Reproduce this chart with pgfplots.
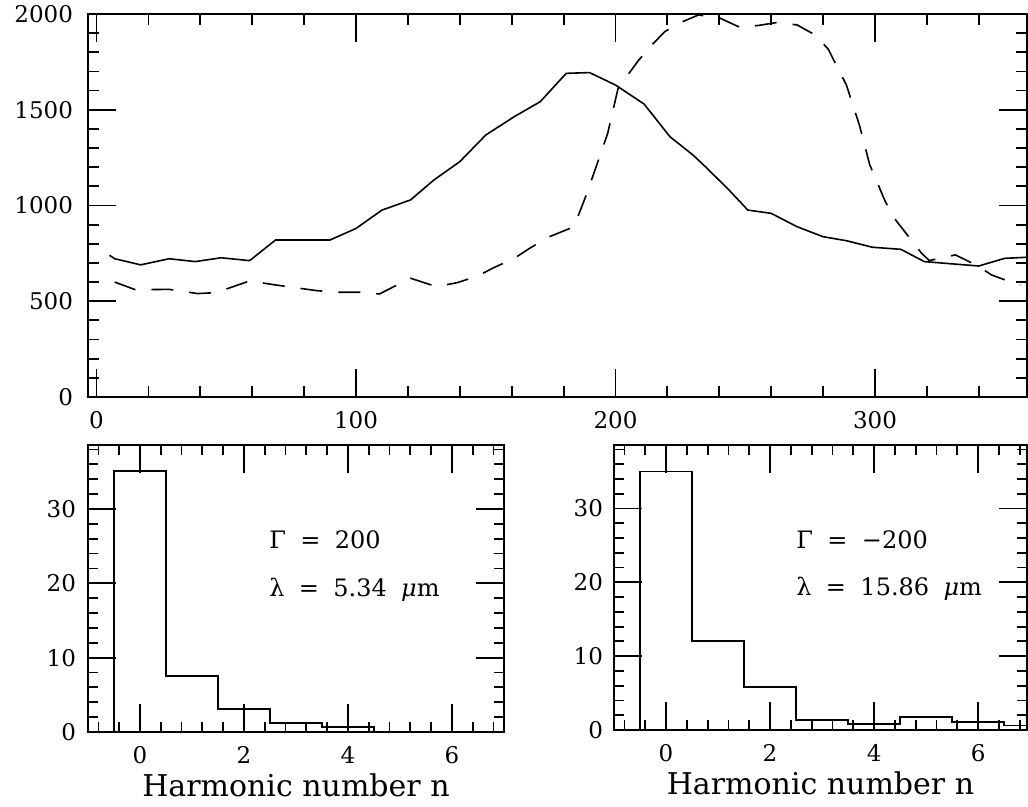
\documentclass[border=0pt]{standalone}
\usepackage{fontspec}
\setmainfont{DejaVu Serif}
\usepackage{pgfplots}
\pgfplotsset{compat=1.18}

\pgfplotsset{
  myax/.style={
    scale only axis,
    axis line style={line width=1pt},
    every tick/.style={black, line width=0.9pt},
    tick align=inside,
    major tick length=14pt,
    minor tick length=5.5pt,
    /pgf/number format/assume math mode=true,
    /pgf/number format/1000 sep={},
    tick label style={font=\fontsize{11.5}{13}\selectfont},
    clip=true,
  }
}
\newcommand{\gp}{\hspace{0.6em}}

\begin{document}
\begin{tikzpicture}
\path[use as bounding box] (0,0) rectangle (514pt,403.5pt);

% ---------------- top panel ----------------
\begin{axis}[myax,
  at={(44pt,205pt)}, anchor=south west,
  width=469.5pt, height=191.5pt,
  xmin=-3.3, xmax=358.6, ymin=0, ymax=2000,
  xtick={0,100,200,300},
  minor xtick={20,40,60,80,120,140,160,180,220,240,260,280,320,340},
  ytick={0,500,1000,1500,2000},
  minor ytick={100,200,300,400,600,700,800,900,1100,1200,1300,1400,1600,1700,1800,1900},
  yticklabel style={xshift=-4pt},
  xticklabel style={yshift=-3.7pt},
]
\addplot[black, line width=0.8pt] coordinates {
(5,740) (7,722) (17,690) (28,722) (38,707) (48,727) (59,712) (69,820) (80,820) (90,820)
(100,880) (110,976) (121,1029) (130,1133) (140,1229) (150,1368) (161,1464) (171,1542)
(181,1690) (190,1694) (200,1629) (211,1530) (221,1359) (230,1262) (236,1185) (244,1077)
(251,976) (260,959) (270,889) (280,837) (289,816) (299,782) (310,771) (319,707)
(340,684) (350,724) (359,730)
};
\addplot[black, line width=0.8pt, dash pattern=on 11pt off 8pt] coordinates {
(7,600) (15,560) (28,562) (39,540) (46,545) (59,606) (69,585) (85,555) (93,547)
(102,547) (109,538) (121,620) (124,607) (131,576) (139,597) (147,632) (153,675)
(161,724) (167,777) (174,834) (184,889) (189,1064) (197,1377) (201,1612) (209,1760)
(214,1838) (219,1908) (225,1955) (232,1995) (240,1980) (248,1930) (255,1940)
(262,1955) (270,1943) (277,1890) (282,1816) (289,1629) (294,1420) (298,1212)
(304,1020) (308,924) (313,837) (318,750) (321,712) (326,728) (331,742) (339,689)
(345,637) (352,602) (356,585)
};
\end{axis}

% ---------------- bottom left panel ----------------
\begin{axis}[myax,
  at={(44pt,37.5pt)}, anchor=south west,
  width=208pt, height=143.5pt,
  xmin=-1, xmax=7, ymin=0, ymax=38.6,
  xtick={0,2,4,6},
  minor xtick={-0.8,-0.4,0.4,0.8,1.2,1.6,2.4,2.8,3.2,3.6,4.4,4.8,5.2,5.6,6.4,6.8},
  ytick={0,10,20,30},
  minor ytick={2,4,6,8,12,14,16,18,22,24,26,28,32,34,36,38},
  major tick length=14pt,
  minor tick length=5pt,
  yticklabel style={xshift=-2.5pt},
  xticklabel style={yshift=-3.5pt},
  xlabel={Harmonic number n},
  xlabel style={font=\fontsize{15}{17}\selectfont, yshift=1.5pt},
]
\addplot[black, line width=0.9pt, const plot] coordinates {
(-0.5,0) (-0.5,35.1) (0.5,7.5) (1.5,3.05) (2.5,1.25) (3.5,0.7) (4.5,0) (7,0)
};
\node[anchor=west, font=\fontsize{12}{14}\selectfont] at (axis cs:2.35,25.8) {Γ\gp=\gp200};
\node[anchor=west, font=\fontsize{12}{14}\selectfont] at (axis cs:2.35,19.1) {λ\gp=\gp5.34\gp\textit{μ}m};
\end{axis}

% ---------------- bottom right panel ----------------
\begin{axis}[myax,
  at={(307pt,38.5pt)}, anchor=south west,
  width=206.5pt, height=142.5pt,
  xmin=-1, xmax=6.94, ymin=0, ymax=38.6,
  xtick={0,2,4,6},
  minor xtick={-0.8,-0.4,0.4,0.8,1.2,1.6,2.4,2.8,3.2,3.6,4.4,4.8,5.2,5.6,6.4,6.8},
  ytick={0,10,20,30},
  minor ytick={2,4,6,8,12,14,16,18,22,24,26,28,32,34,36,38},
  major tick length=14pt,
  minor tick length=5pt,
  yticklabel style={xshift=-2pt},
  xticklabel style={yshift=-3.5pt},
  xlabel={Harmonic number n},
  xlabel style={font=\fontsize{15}{17}\selectfont, yshift=1.5pt},
]
\addplot[black, line width=0.9pt, const plot] coordinates {
(-0.5,0) (-0.5,35) (0.5,12.1) (1.5,5.8) (2.5,1.4) (3.5,0.85) (4.5,1.75) (5.5,1.05) (6.5,0.6) (6.94,0.6)
};
\node[anchor=west, font=\fontsize{12}{14}\selectfont] at (axis cs:2.37,25.7) {Γ\gp=\gp−200};
\node[anchor=west, font=\fontsize{12}{14}\selectfont] at (axis cs:2.37,19.1) {λ\gp=\gp15.86\gp\textit{μ}m};
\end{axis}
\end{tikzpicture}
\end{document}
